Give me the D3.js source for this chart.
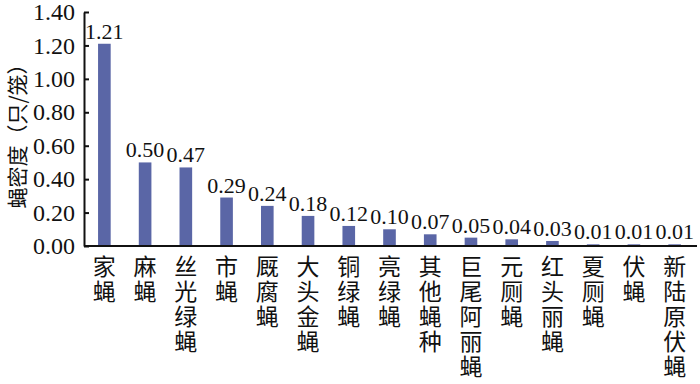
<!DOCTYPE html>
<html lang="zh">
<head>
<meta charset="UTF-8">
<script src="https://d3js.org/d3.v7.min.js"></script>
<style>
  body { margin: 0; background: #fff; }
  .domain, .tick line { stroke: #111; stroke-width: 2px; }
  .cat { writing-mode: vertical-rl; text-orientation: upright; }
</style>
</head>
<body>
<script>
// fly species and density
var species = ["家蝇", "麻蝇", "丝光绿蝇", "市蝇", "厩腐蝇", "大头金蝇", "铜绿蝇", "亮绿蝇",
               "其他蝇种", "巨尾阿丽蝇", "元厕蝇", "红头丽蝇", "夏厕蝇", "伏蝇", "新陆原伏蝇"];
var density = [1.21, 0.50, 0.47, 0.29, 0.24, 0.18, 0.12, 0.10, 0.07, 0.05, 0.04, 0.03, 0.01, 0.01, 0.01];
var yTicks = [0, 0.2, 0.4, 0.6, 0.8, 1.0, 1.2, 1.4];

var width = 700, height = 384;
var margin = {top: 12, right: 4, bottom: 138, left: 84};
var serif = "'Liberation Serif', 'Times New Roman', serif";
var cjk = "'Noto Sans CJK SC', sans-serif";

var svg = d3.select("body").append("svg")
  .attr("width", width)
  .attr("height", height);

var x = d3.scaleBand()
  .domain(species)
  .range([margin.left, 695])
  .paddingInner(0.69)
  .paddingOuter(0.345);

var y = d3.scaleLinear()
  .domain([0, 1.4])
  .range([height - margin.bottom, margin.top]);

// y axis, ticks pointing inward
var yAxis = svg.append("g")
  .attr("transform", "translate(" + margin.left + ",0)")
  .call(d3.axisLeft(y).tickValues(yTicks).tickSize(-5).tickSizeOuter(0).tickPadding(9)
    .tickFormat(d3.format(".2f")));

yAxis.selectAll(".tick text")
  .attr("font-family", serif)
  .attr("font-size", 24)
  .attr("fill", "#111");

// bars
svg.selectAll("rect.bar")
  .data(density)
  .enter().append("rect")
  .attr("class", "bar")
  .attr("x", function(d, i) { return x(species[i]); })
  .attr("y", function(d) { return y(d); })
  .attr("width", x.bandwidth())
  .attr("height", function(d) { return y(0) - y(d); })
  .attr("fill", "#5a66a6");

// value labels
svg.selectAll("text.val")
  .data(density)
  .enter().append("text")
  .attr("class", "val")
  .attr("font-family", serif)
  .attr("font-size", 22)
  .attr("fill", "#111")
  .attr("text-anchor", "middle")
  .attr("x", function(d, i) { return x(species[i]) + x.bandwidth() / 2; })
  .attr("y", function(d) { return y(d) - 5; })
  .text(function(d) { return d.toFixed(2); });

// x axis line
svg.append("line")
  .attr("x1", margin.left).attr("x2", 697)
  .attr("y1", y(0)).attr("y2", y(0))
  .attr("stroke", "#111").attr("stroke-width", 2);

// category labels, written top to bottom
svg.selectAll("text.cat")
  .data(species)
  .enter().append("text")
  .attr("class", "cat")
  .attr("font-family", cjk)
  .attr("font-size", 23)
  .attr("letter-spacing", 2)
  .attr("fill", "#111")
  .attr("x", function(d) { return x(d) + x.bandwidth() / 2; })
  .attr("y", y(0) + 9)
  .text(function(d) { return d; });

// y axis title
svg.append("text")
  .attr("font-family", cjk)
  .attr("font-size", 21)
  .attr("fill", "#111")
  .attr("text-anchor", "middle")
  .attr("transform", "translate(25,131)rotate(-90)")
  .text("蝇密度（只/笼）");
</script>
</body>
</html>
